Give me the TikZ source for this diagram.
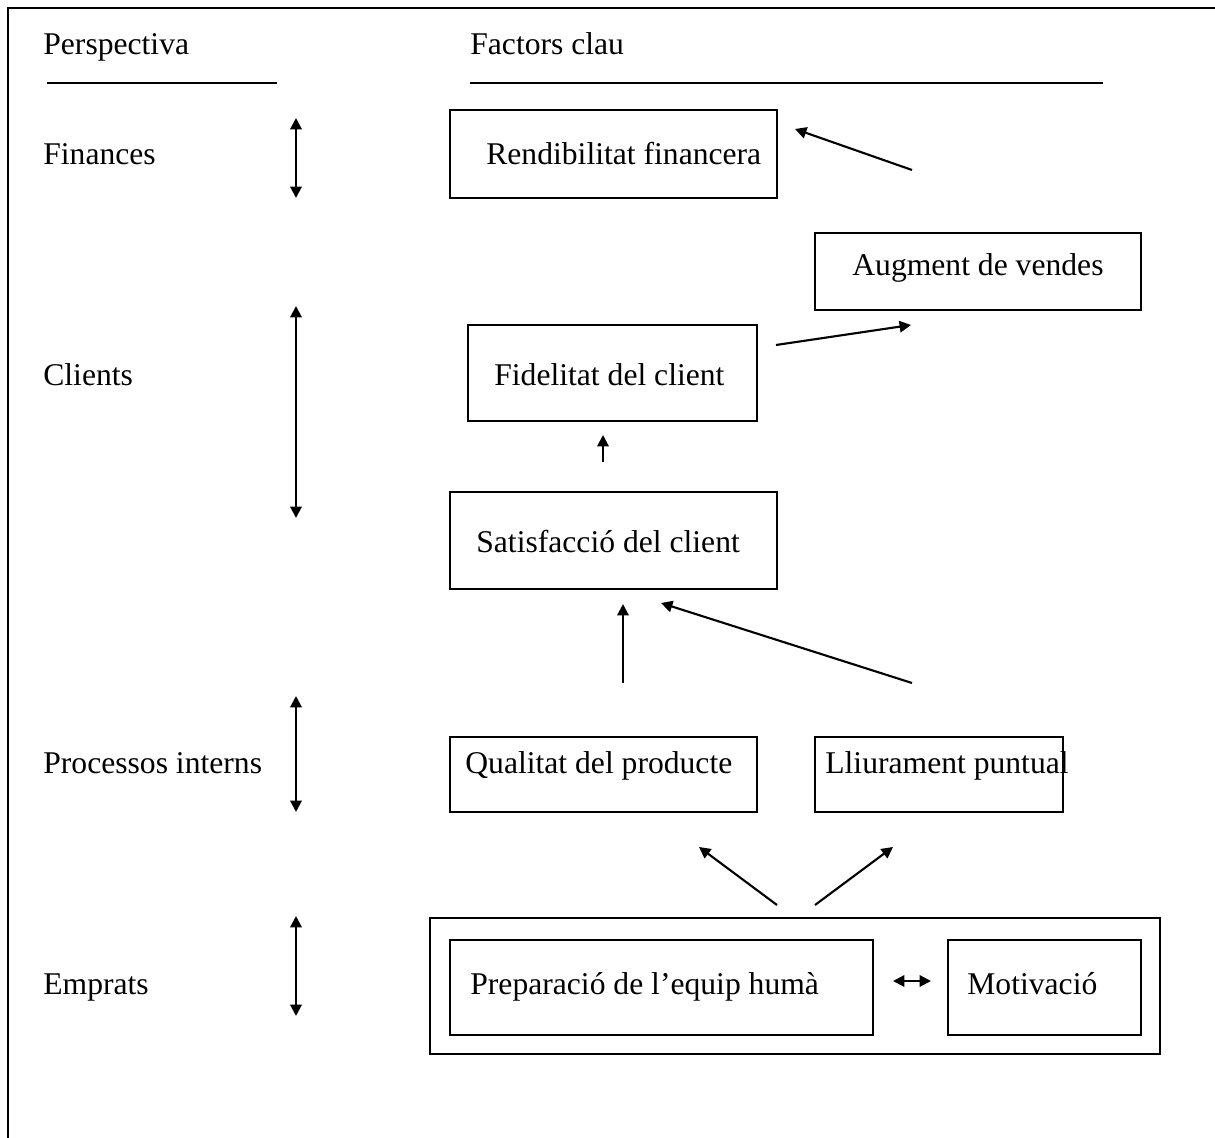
\documentclass[tikz,border=0pt]{standalone}
\usepackage{fontspec}
\setmainfont{Liberation Serif}
\usetikzlibrary{arrows.meta,fit}

\begin{document}
\begin{tikzpicture}[x=0.02cm, y=-0.02cm,
    box/.style={draw, line width=1.1pt, inner sep=0pt},
    lbl/.style={anchor=base west, inner sep=0pt, font=\fontsize{18}{22}\selectfont},
    rule/.style={line width=1.7pt},
    tip/.tip={Triangle[length=6.5pt,width=6.5pt]},
    arr/.style={line width=1.2pt, -tip},
    darr/.style={line width=1.2pt, tip-tip}]
  \useasboundingbox (0,0) rectangle (1215,1138);

  % outer frame (top and left edges)
  \coordinate (fbl) at (8,1138);
  \coordinate (ftl) at (8,8);
  \coordinate (ftr) at (1215,8);
  \draw[line width=1.2pt] (fbl) -- (ftl) -- (ftr);

  % column headings
  \node[lbl] (hpersp) at (43,55) {Perspectiva};
  \node[lbl] (hfact) at (470,55) {Factors clau};
  \coordinate (r1a) at (47,83);  \coordinate (r1b) at (277,83);
  \coordinate (r2a) at (470,83); \coordinate (r2b) at (1103,83);
  \draw[rule] (r1a) -- (r1b);
  \draw[rule] (r2a) -- (r2b);

  % perspectives
  \node[lbl] (pfin) at (43,165) {Finances};
  \node[lbl] (pcli) at (43,386) {Clients};
  \node[lbl] (ppro) at (43,773) {Processos interns};
  \node[lbl] (pemp) at (43,994) {Emprats};

  % vertical range arrows
  \coordinate (d1a) at (296,118); \coordinate (d1b) at (296,198);
  \coordinate (d2a) at (296,306); \coordinate (d2b) at (296,518);
  \coordinate (d3a) at (296,696); \coordinate (d3b) at (296,812);
  \coordinate (d4a) at (296,916); \coordinate (d4b) at (296,1016);
  \draw[darr] (d1a) -- (d1b);
  \draw[darr] (d2a) -- (d2b);
  \draw[darr] (d3a) -- (d3b);
  \draw[darr] (d4a) -- (d4b);

  % key factor boxes
  \node[box, fit={(450,110) (777,198)}] (rend) {};
  \node[lbl] (trend) at (486,165) {Rendibilitat financera};

  \node[box, fit={(815,233) (1141,310)}] (aug) {};
  \node[lbl] (taug) at (852,276) {Augment de vendes};

  \node[box, fit={(468,325) (757,421)}] (fid) {};
  \node[lbl] (tfid) at (494,386) {Fidelitat del client};

  \node[box, fit={(450,492) (777,589)}] (sat) {};
  \node[lbl] (tsat) at (476,553) {Satisfacció del client};

  \node[box, fit={(450,737) (757,812)}] (qual) {};
  \node[lbl] (tqual) at (465,773) {Qualitat del producte};

  \node[box, fit={(815,737) (1063,812)}] (lliu) {};
  \node[lbl] (tlliu) at (825,773) {Lliurament puntual};

  \node[box, fit={(430,918) (1160,1054)}] (emp) {};
  \node[box, fit={(450,940) (873,1035)}] (prep) {};
  \node[lbl] (tprep) at (470,994) {Preparació de l’equip humà};
  \node[box, fit={(948,940) (1141,1035)}] (mot) {};
  \node[lbl] (tmot) at (967,994) {Motivació};

  % cause-effect arrows
  \coordinate (a1s) at (912,170); \coordinate (a1e) at (795,129);
  \coordinate (a2s) at (776,345); \coordinate (a2e) at (911,325);
  \coordinate (a3s) at (603,462); \coordinate (a3e) at (603,435);
  \coordinate (a4s) at (623,683); \coordinate (a4e) at (623,604);
  \coordinate (a5s) at (912,683); \coordinate (a5e) at (661,603);
  \coordinate (a6s) at (777,905); \coordinate (a6e) at (699,847);
  \coordinate (a7s) at (815,905); \coordinate (a7e) at (893,847);
  \coordinate (a8s) at (893,981); \coordinate (a8e) at (931,981);
  \draw[arr] (a1s) -- (a1e);
  \draw[arr] (a2s) -- (a2e);
  \draw[arr] (a3s) -- (a3e);
  \draw[arr] (a4s) -- (a4e);
  \draw[arr] (a5s) -- (a5e);
  \draw[arr] (a6s) -- (a6e);
  \draw[arr] (a7s) -- (a7e);
  \draw[darr] (a8s) -- (a8e);
\end{tikzpicture}
\end{document}
